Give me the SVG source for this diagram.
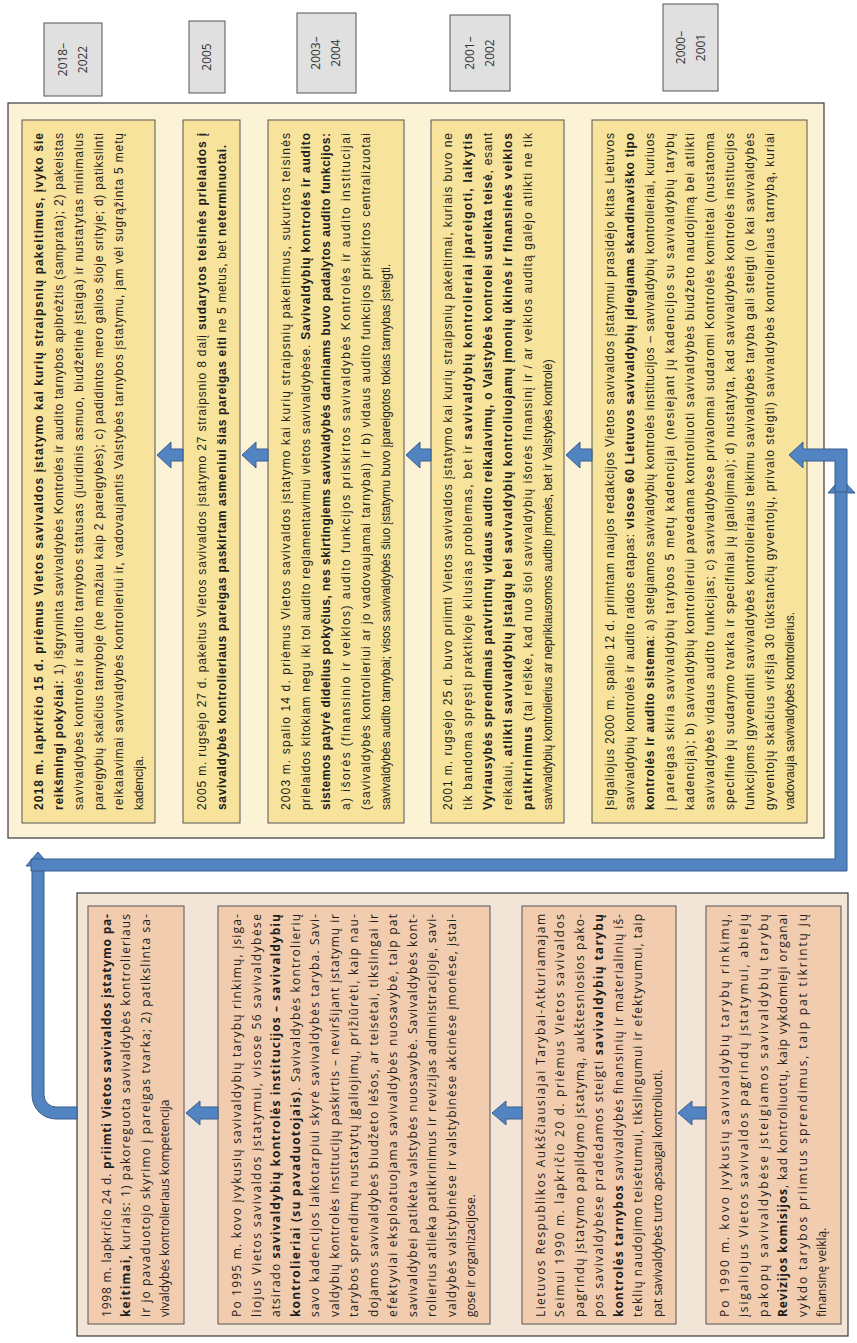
<svg xmlns="http://www.w3.org/2000/svg" width="857" height="1343" viewBox="0 0 857 1343">
<defs>
<style>
.panelT{fill:#FCF2D6;stroke:#3a3a3a;stroke-width:1.2}
.panelB{fill:#F3E4D8;stroke:#3a3a3a;stroke-width:1.2}
.boxT{fill:#F8E39C;stroke:#555;stroke-width:1}
.boxB{fill:#F1CCAE;stroke:#555;stroke-width:1}
.yr{fill:#E0E0E0;stroke:#555;stroke-width:1}
.arr{fill:#5284C2;stroke:#3A5F8E;stroke-width:1}
.t{font-family:'Liberation Sans',Arial,sans-serif;font-size:12px;fill:#1e1e1e}
.b{font-family:'Open Sans','DejaVu Sans',sans-serif;font-size:12px;fill:#1e1e1e}
.y{font-family:'Open Sans','DejaVu Sans',sans-serif;font-size:12px;fill:#333;text-anchor:middle}
.bd{font-weight:bold}
</style>
</defs>
<rect width="857" height="1343" fill="#ffffff"/>

<!-- year labels -->
<g id="year2018"><rect class="yr" x="44" y="23" width="58" height="73"/>
<g transform="translate(0,1343) rotate(-90)"><text class="y" x="1283.5" y="67">2018–</text><text class="y" x="1283.5" y="87">2022</text></g></g>
<g id="year2005"><rect class="yr" x="189" y="21" width="36" height="72"/>
<g transform="translate(0,1343) rotate(-90)"><text class="y" x="1286" y="211">2005</text></g></g>
<g id="year2003"><rect class="yr" x="297" y="13" width="59" height="80"/>
<g transform="translate(0,1343) rotate(-90)"><text class="y" x="1290" y="320">2003–</text><text class="y" x="1290" y="340">2004</text></g></g>
<g id="year2001"><rect class="yr" x="450" y="15" width="60" height="76"/>
<g transform="translate(0,1343) rotate(-90)"><text class="y" x="1290" y="474">2001–</text><text class="y" x="1290" y="494">2002</text></g></g>
<g id="year2000"><rect class="yr" x="663" y="4" width="55" height="87"/>
<g transform="translate(0,1343) rotate(-90)"><text class="y" x="1295.5" y="685">2000–</text><text class="y" x="1295.5" y="705">2001</text></g></g>

<!-- panels -->
<rect id="panelTop" class="panelT" x="8" y="103" width="816" height="735"/>
<rect id="panelBottom" class="panelB" x="77" y="893" width="771" height="443"/>

<!-- top row -->
<g id="n2018"><rect class="boxT" x="22" y="120" width="133" height="703"/>
<g transform="translate(0,1343) rotate(-90)">
<text class="t bd" x="533" y="42.5" textLength="677" lengthAdjust="spacing">2018 m. lapkričio 15 d. priėmus Vietos savivaldos įstatymo kai kurių straipsnių pakeitimus, įvyko šie</text>
<text class="t" x="533" y="62.5" textLength="677" lengthAdjust="spacing"><tspan class="bd">reikšmingi pokyčiai:</tspan> 1) išgryninta savivaldybės Kontrolės ir audito tarnybos apibrėžtis (samprata); 2) pakeistas</text>
<text class="t" x="533" y="82.5" textLength="677" lengthAdjust="spacing">savivaldybės kontrolės ir audito tarnybos statusas (juridinis asmuo, biudžetinė įstaiga) ir nustatytas minimalus</text>
<text class="t" x="533" y="102.5" textLength="677" lengthAdjust="spacing">pareigybių skaičius tarnyboje (ne mažiau kaip 2 pareigybės); c) padidintos mero galios šioje srityje; d) patikslinti</text>
<text class="t" x="533" y="122.5" textLength="677" lengthAdjust="spacing">reikalavimai savivaldybės kontrolieriui ir, vadovaujantis Valstybės tarnybos įstatymu, jam vėl sugrąžinta 5 metų</text>
<text class="t" x="533" y="142.5">kadencija.</text>
</g></g>

<g id="n2005"><rect class="boxT" x="183" y="120" width="57" height="703"/>
<g transform="translate(0,1343) rotate(-90)">
<text class="t" x="533" y="205.5" textLength="677" lengthAdjust="spacing">2005 m. rugsėjo 27 d. pakeitus Vietos savivaldos įstatymo 27 straipsnio 8 dalį <tspan class="bd">sudarytos teisinės prielaidos į</tspan></text>
<text class="t" x="533" y="225.5" textLength="665" lengthAdjust="spacing"><tspan class="bd">savivaldybės kontrolieriaus pareigas paskirtam asmeniui šias pareigas eiti</tspan> ne 5 metus, bet <tspan class="bd">neterminuotai.</tspan></text>
</g></g>

<g id="n2003"><rect class="boxT" x="268" y="120" width="136" height="703"/>
<g transform="translate(0,1343) rotate(-90)">
<text class="t" x="533" y="290" textLength="677" lengthAdjust="spacing">2003 m. spalio 14 d. priėmus Vietos savivaldos įstatymo kai kurių straipsnių pakeitimus, sukurtos teisinės</text>
<text class="t" x="533" y="310" textLength="677" lengthAdjust="spacing">prielaidos kitokiam negu iki tol audito reglamentavimui vietos savivaldybėse. <tspan class="bd">Savivaldybių kontrolės ir audito</tspan></text>
<text class="t bd" x="533" y="330" textLength="677" lengthAdjust="spacing">sistemos patyrė didelius pokyčius, nes skirtingiems savivaldybės dariniams buvo padalytos audito funkcijos:</text>
<text class="t" x="533" y="350" textLength="677" lengthAdjust="spacing">a) išorės (finansinio ir veiklos) audito funkcijos priskirtos savivaldybės Kontrolės ir audito institucijai</text>
<text class="t" x="533" y="370" textLength="677" lengthAdjust="spacing">(savivaldybės kontrolieriui ar jo vadovaujamai tarnybai) ir b) vidaus audito funkcijos priskirtos centralizuotai</text>
<text class="t" x="533" y="390">savivaldybės audito tarnybai; visos savivaldybės šiuo įstatymu buvo įpareigotos tokias tarnybas įsteigti.</text>
</g></g>

<g id="n2001"><rect class="boxT" x="431" y="120" width="133" height="703"/>
<g transform="translate(0,1343) rotate(-90)">
<text class="t" x="533" y="451.5" textLength="677" lengthAdjust="spacing">2001 m. rugsėjo 25 d. buvo priimti Vietos savivaldos įstatymo kai kurių straipsnių pakeitimai, kuriais buvo ne</text>
<text class="t" x="533" y="471.5" textLength="677" lengthAdjust="spacing">tik bandoma spręsti praktikoje kilusias problemas, bet ir <tspan class="bd">savivaldybių kontrolieriai įpareigoti, laikytis</tspan></text>
<text class="t" x="533" y="491.5" textLength="677" lengthAdjust="spacing"><tspan class="bd">Vyriausybės sprendimais patvirtintų vidaus audito reikalavimų, o Valstybės kontrolei suteikta teisė</tspan>, esant</text>
<text class="t" x="533" y="511.5" textLength="677" lengthAdjust="spacing">reikalui, <tspan class="bd">atlikti savivaldybių įstaigų bei savivaldybių kontroliuojamų įmonių ūkinės ir finansinės veiklos</tspan></text>
<text class="t" x="533" y="531.5" textLength="677" lengthAdjust="spacing"><tspan class="bd">patikrinimus</tspan> (tai reiškė, kad nuo šiol savivaldybių išorės finansinį ir / ar veiklos auditą galėjo atlikti ne tik</text>
<text class="t" x="533" y="551.5">savivaldybių kontrolierius ar nepriklausomos audito įmonės, bet ir Valstybės kontrolė)</text>
</g></g>

<g id="n2000"><rect class="boxT" x="592" y="120" width="215" height="703"/>
<g transform="translate(0,1343) rotate(-90)">
<text class="t" x="533" y="613.5" textLength="677" lengthAdjust="spacing">Įsigaliojus 2000 m. spalio 12 d. priimtam naujos redakcijos Vietos savivaldos įstatymui prasidėjo kitas Lietuvos</text>
<text class="t" x="533" y="633.5" textLength="677" lengthAdjust="spacing">savivaldybių kontrolės ir audito raidos etapas: <tspan class="bd">visose 60 Lietuvos savivaldybių įdiegiama skandinaviško tipo</tspan></text>
<text class="t" x="533" y="653.5" textLength="677" lengthAdjust="spacing"><tspan class="bd">kontrolės ir audito sistema</tspan>: a) steigiamos savivaldybių kontrolės institucijos – savivaldybių kontrolieriai, kuriuos</text>
<text class="t" x="533" y="673.5" textLength="677" lengthAdjust="spacing">į pareigas skiria savivaldybių tarybos 5 metų kadencijai (nesiejant jų kadencijos su savivaldybių tarybų</text>
<text class="t" x="533" y="693.5" textLength="677" lengthAdjust="spacing">kadencija); b) savivaldybių kontrolieriui pavedama kontroliuoti savivaldybės biudžeto naudojimą bei atlikti</text>
<text class="t" x="533" y="713.5" textLength="677" lengthAdjust="spacing">savivaldybės vidaus audito funkcijas; c) savivaldybėse privalomai sudaromi Kontrolės komitetai (nustatoma</text>
<text class="t" x="533" y="733.5" textLength="677" lengthAdjust="spacing">specifinė jų sudarymo tvarka ir specifiniai jų įgaliojimai); d) nustatyta, kad savivaldybės kontrolės institucijos</text>
<text class="t" x="533" y="753.5" textLength="677" lengthAdjust="spacing">funkcijoms įgyvendinti savivaldybės kontrolieriaus teikimu savivaldybės taryba gali steigti (o kai savivaldybės</text>
<text class="t" x="533" y="773.5" textLength="677" lengthAdjust="spacing">gyventojų skaičius viršija 30 tūkstančių gyventojų, privalo steigti) savivaldybės kontrolieriaus tarnybą, kuriai</text>
<text class="t" x="533" y="793.5">vadovauja savivaldybės kontrolierius.</text>
</g></g>

<!-- bottom row -->
<g id="n1998"><rect class="boxB" x="88" y="906" width="96" height="418"/>
<g transform="translate(0,1343) rotate(-90)">
<text class="b" x="26" y="110.75" textLength="403" lengthAdjust="spacing">1998 m. lapkričio 24 d. <tspan class="bd">priimti Vietos savivaldos įstatymo pa-</tspan></text>
<text class="b" x="26" y="130.25" textLength="403" lengthAdjust="spacing"><tspan class="bd">keitimai,</tspan> kuriais: 1) pakoreguota savivaldybės kontrolieriaus</text>
<text class="b" x="26" y="149.75" textLength="403" lengthAdjust="spacing">ir jo pavaduotojo skyrimo į pareigas tvarka; 2) patikslinta sa-</text>
<text class="b" x="26" y="169.25">vivaldybės kontrolieriaus kompetencija</text>
</g></g>

<g id="n1995"><rect class="boxB" x="218" y="906" width="272" height="418"/>
<g transform="translate(0,1343) rotate(-90)">
<text class="b" x="26" y="241" textLength="403" lengthAdjust="spacing">Po 1995 m. kovo įvykusių savivaldybių tarybų rinkimų, įsiga-</text>
<text class="b" x="26" y="260.5" textLength="403" lengthAdjust="spacing">liojus Vietos savivaldos įstatymui, visose 56 savivaldybėse</text>
<text class="b" x="26" y="280" textLength="403" lengthAdjust="spacing">atsirado <tspan class="bd">savivaldybių kontrolės institucijos – savivaldybių</tspan></text>
<text class="b" x="26" y="299.5" textLength="403" lengthAdjust="spacing"><tspan class="bd">kontrolieriai (su pavaduotojais)</tspan>. Savivaldybės kontrolierių</text>
<text class="b" x="26" y="319" textLength="403" lengthAdjust="spacing">savo kadencijos laikotarpiui skyrė savivaldybės taryba. Savi-</text>
<text class="b" x="26" y="338.5" textLength="403" lengthAdjust="spacing">valdybių kontrolės institucijų paskirtis – neviršijant įstatymų ir</text>
<text class="b" x="26" y="358" textLength="403" lengthAdjust="spacing">tarybos sprendimų nustatytų įgaliojimų, prižiūrėti, kaip nau-</text>
<text class="b" x="26" y="377.5" textLength="403" lengthAdjust="spacing">dojamos savivaldybės biudžeto lėšos, ar teisėtai, tikslingai ir</text>
<text class="b" x="26" y="397" textLength="403" lengthAdjust="spacing">efektyviai eksploatuojama savivaldybės nuosavybė, taip pat</text>
<text class="b" x="26" y="416.5" textLength="403" lengthAdjust="spacing">savivaldybei patikėta valstybės nuosavybė. Savivaldybės kont-</text>
<text class="b" x="26" y="436" textLength="403" lengthAdjust="spacing">rolierius atlieka patikrinimus ir revizijas administracijoje, savi-</text>
<text class="b" x="26" y="455.5" textLength="403" lengthAdjust="spacing">valdybės valstybinėse ir valstybinėse akcinėse įmonėse, įstai-</text>
<text class="b" x="26" y="475">gose ir organizacijose.</text>
</g></g>

<g id="n1990LR"><rect class="boxB" x="522" y="906" width="154" height="418"/>
<g transform="translate(0,1343) rotate(-90)">
<text class="b" x="26" y="544.5" textLength="403" lengthAdjust="spacing">Lietuvos Respublikos Aukščiausiajai Tarybai-Atkuriamajam</text>
<text class="b" x="26" y="564" textLength="403" lengthAdjust="spacing">Seimui 1990 m. lapkričio 20 d. priėmus Vietos savivaldos</text>
<text class="b" x="26" y="583.5" textLength="403" lengthAdjust="spacing">pagrindų įstatymo papildymo įstatymą, aukštesniosios pako-</text>
<text class="b" x="26" y="603" textLength="403" lengthAdjust="spacing">pos savivaldybėse pradedamos steigti <tspan class="bd">savivaldybių tarybų</tspan></text>
<text class="b" x="26" y="622.5" textLength="403" lengthAdjust="spacing"><tspan class="bd">kontrolės tarnybos</tspan> savivaldybės finansinių ir materialinių iš-</text>
<text class="b" x="26" y="642" textLength="403" lengthAdjust="spacing">teklių naudojimo teisėtumui, tikslingumui ir efektyvumui, taip</text>
<text class="b" x="26" y="661.5">pat savivaldybės turto apsaugai kontroliuoti.</text>
</g></g>

<g id="n1990"><rect class="boxB" x="706" y="906" width="135" height="418"/>
<g transform="translate(0,1343) rotate(-90)">
<text class="b" x="26" y="728.75" textLength="403" lengthAdjust="spacing">Po 1990 m. kovo įvykusių savivaldybių tarybų rinkimų,</text>
<text class="b" x="26" y="748.25" textLength="403" lengthAdjust="spacing">įsigaliojus Vietos savivaldos pagrindų įstatymui, abiejų</text>
<text class="b" x="26" y="767.75" textLength="403" lengthAdjust="spacing">pakopų savivaldybėse įsteigiamos savivaldybių tarybų</text>
<text class="b" x="26" y="787.25" textLength="403" lengthAdjust="spacing"><tspan class="bd">Revizijos komisijos</tspan>, kad kontroliuotų, kaip vykdomieji organai</text>
<text class="b" x="26" y="806.75" textLength="403" lengthAdjust="spacing">vykdo tarybos priimtus sprendimus, taip pat tikrintų jų</text>
<text class="b" x="26" y="826.25">finansinę veiklą.</text>
</g></g>

<!-- connectors -->
<g id="connectors">
<path class="arr" d="M157,455 L171,442 L171,449 L183,449 L183,461 L171,461 L171,468 Z"/>
<path class="arr" d="M242,455 L256,442 L256,449 L268,449 L268,461 L256,461 L256,468 Z"/>
<path class="arr" d="M406,455 L420,442 L420,449 L431,449 L431,461 L420,461 L420,468 Z"/>
<path class="arr" d="M566,455 L580,442 L580,449 L592,449 L592,461 L580,461 L580,468 Z"/>
<path class="arr" d="M186,1113 L200,1101 L200,1107 L218,1107 L218,1119 L200,1119 L200,1125 Z"/>
<path class="arr" d="M492,1113 L506,1101 L506,1107 L522,1107 L522,1119 L506,1119 L506,1125 Z"/>
<path class="arr" d="M678,1113 L692,1101 L692,1107 L706,1107 L706,1119 L692,1119 L692,1125 Z"/>
<path class="arr" d="M32,866 L26,866 L38,852 L50,866 L44,866 L44,1095 A12,12 0 0 0 56,1107 L77,1107 L77,1119 L56,1119 A24,24 0 0 1 32,1095 Z"/>
<path class="arr" d="M31,859 L835,859 L835,493 L828,493 L841,478 L855,493 L847,493 L847,871 L31,871 Z"/>
<path class="arr" d="M789,455 L803,442 L803,449 L847,449 L847,492 L835,492 L835,461 L803,461 L803,468 Z"/>
</g>
</svg>
